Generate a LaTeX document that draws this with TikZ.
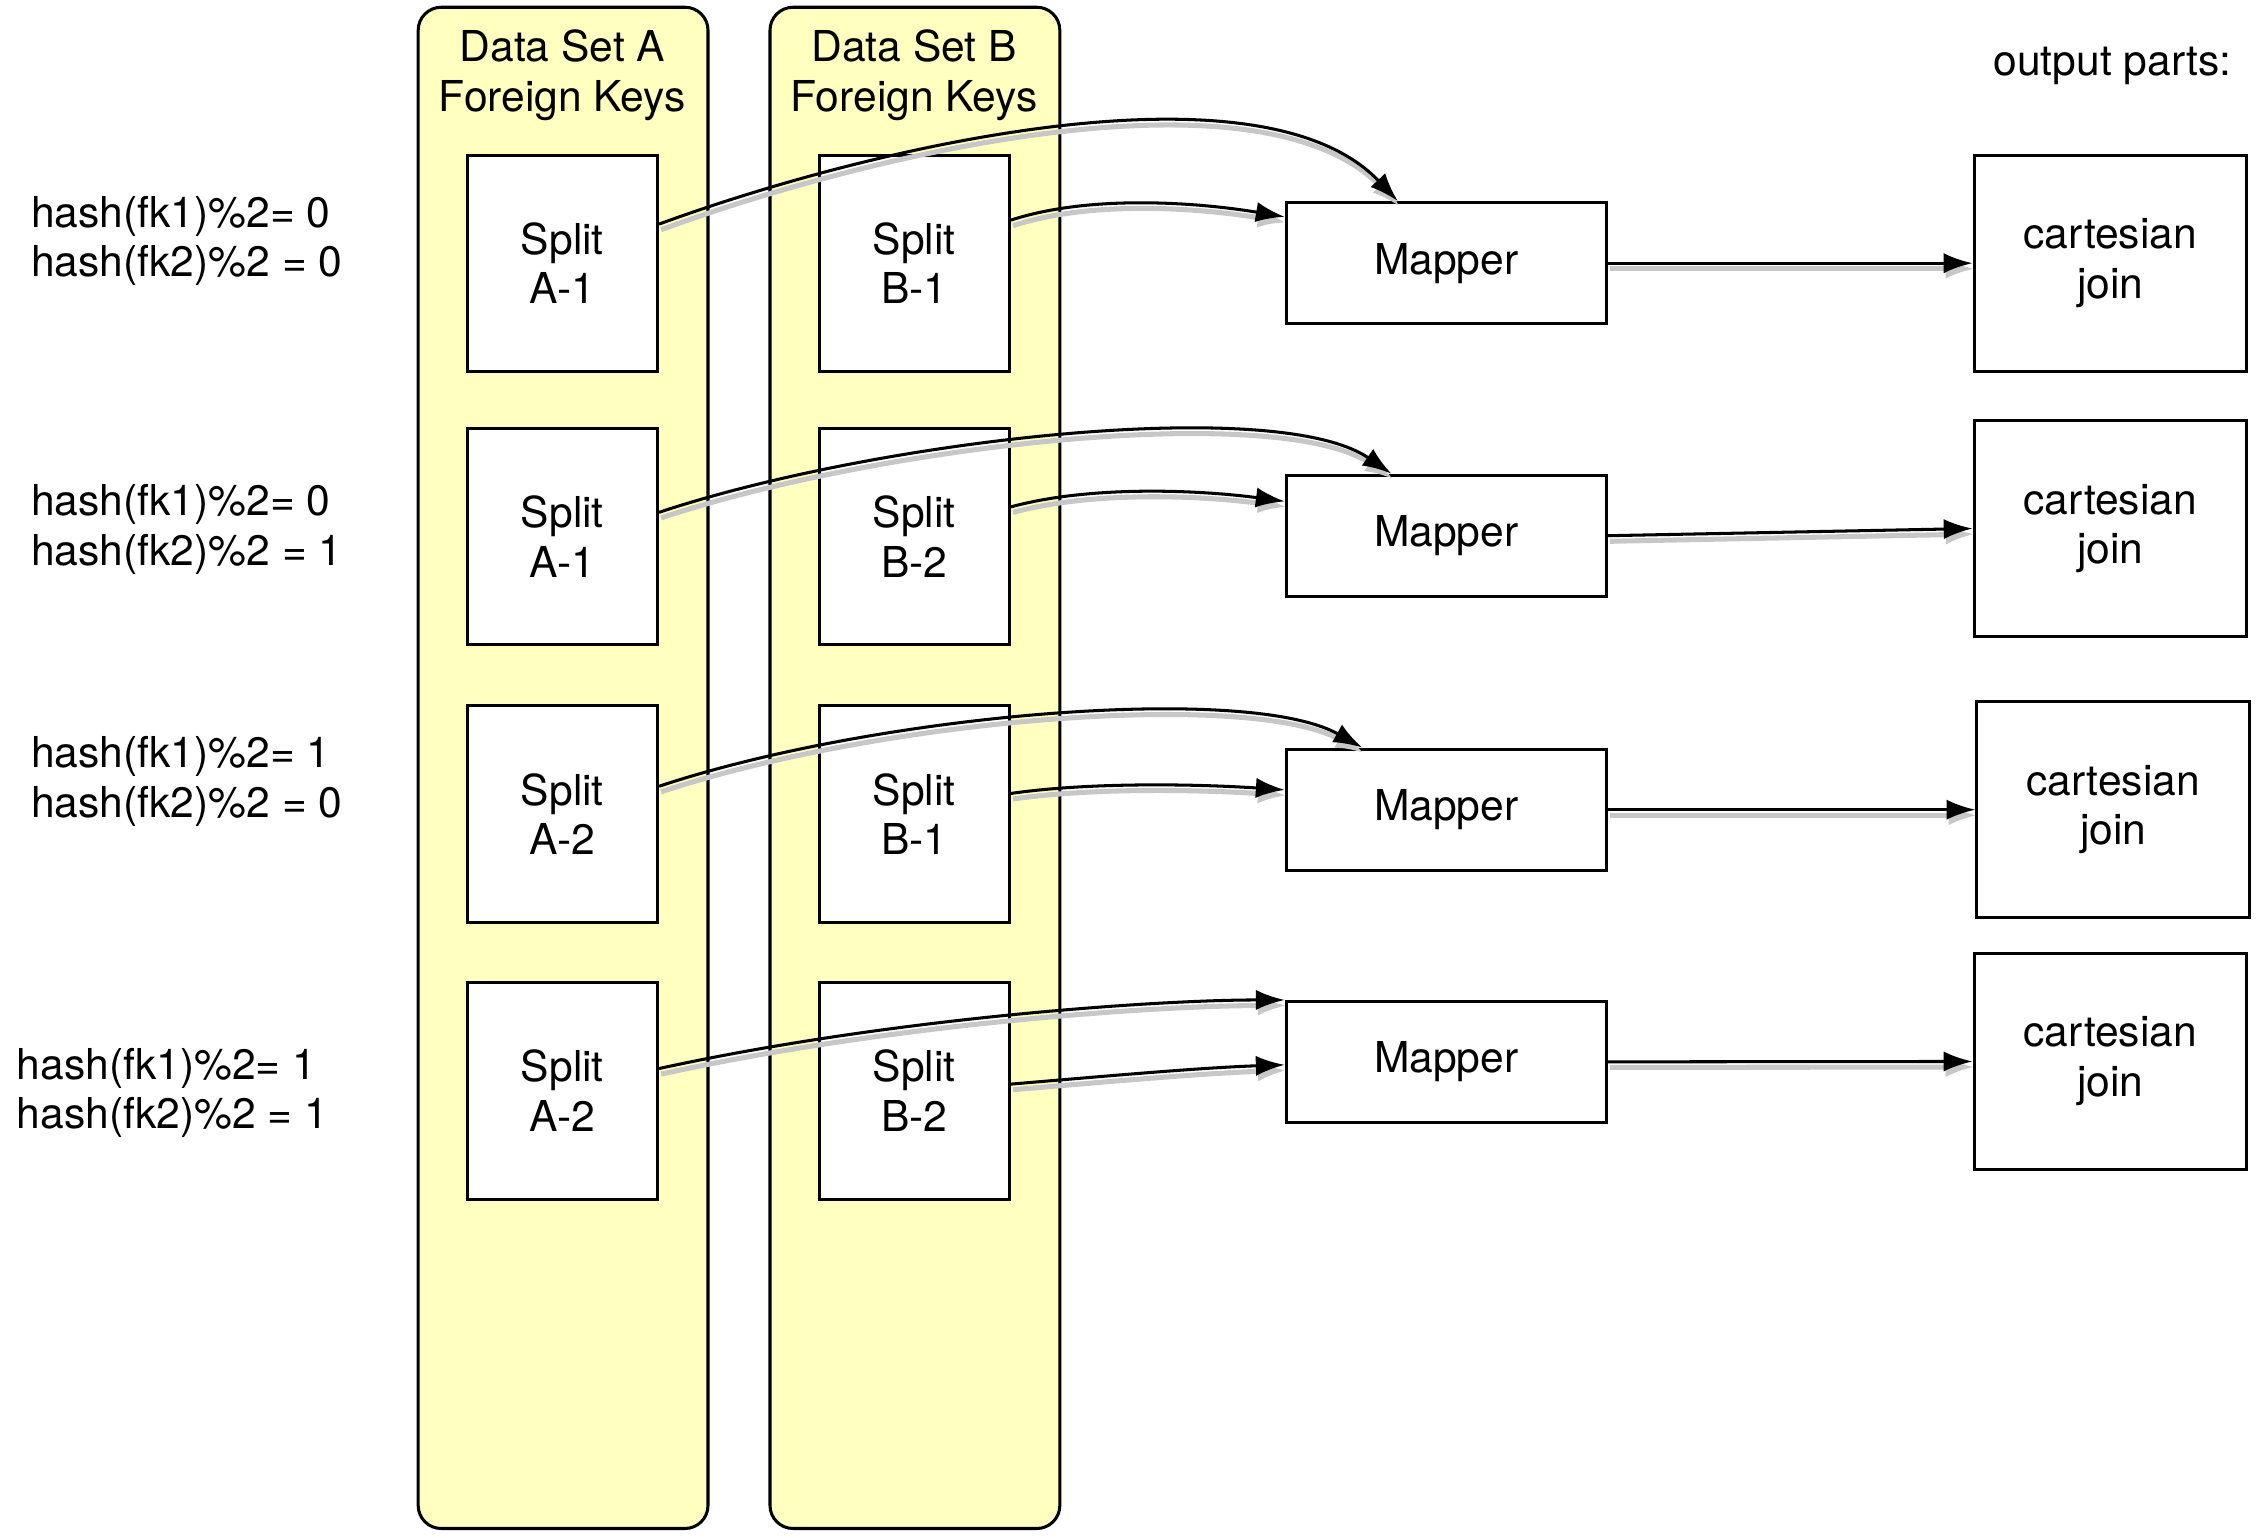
\documentclass[tikz,border=0pt]{standalone}
\usepackage{fontspec}
\setmainfont{TeX Gyre Heros}
\usetikzlibrary{arrows.meta,calc}
\definecolor{setyellow}{RGB}{255,255,192}

\begin{document}
\begin{tikzpicture}[x=0.1mm, y=-0.1mm,
		font=\fontsize{8.4}{9.8}\selectfont,
		column/.style={draw, rounded corners=1.6mm, fill=setyellow, line width=0.6pt, minimum width=20.1mm, minimum height=105.5mm},
		split/.style={draw, fill=white, line width=0.6pt, align=center, minimum width=13.2mm, minimum height=15mm},
		mapper/.style={draw, fill=white, line width=0.6pt, minimum width=22.2mm, minimum height=8.4mm},
		joinbox/.style={draw, fill=white, line width=0.6pt, align=center, minimum width=18.9mm, minimum height=15mm},
		hashlabel/.style={anchor=west, align=left, inner sep=0pt},
		flow/.style={-{Latex[length=2mm,width=1.4mm]}, line width=0.6pt,
			preaction={draw=black!22, line width=1pt, transform canvas={shift={(0.4pt,-1.1pt)}}}}]
		%%%%% START %%%%%
		\useasboundingbox (0, 0) rectangle (1568, 1066);
		
		\node[column] (colA) at (390.5, 532.5) {};
		\node[column] (colB) at (634.5, 532.5) {};
		\node[align=center] (titleA) at (390, 52) {Data Set A\\Foreign Keys};
		\node[align=center] (titleB) at (634, 52) {Data Set B\\Foreign Keys};
		
		\node[split] (sa1) at (390, 182.5) {Split\\A-1};
		\node[split] (sa2) at (390, 372) {Split\\A-1};
		\node[split] (sa3) at (390, 564.5) {Split\\A-2};
		\node[split] (sa4) at (390, 756.5) {Split\\A-2};
		
		\node[split] (sb1) at (634, 182.5) {Split\\B-1};
		\node[split] (sb2) at (634, 372) {Split\\B-2};
		\node[split] (sb3) at (634, 564.5) {Split\\B-1};
		\node[split] (sb4) at (634, 756.5) {Split\\B-2};
		
		\node[mapper] (m1) at (1003, 182.5) {Mapper};
		\node[mapper] (m2) at (1003, 371.5) {Mapper};
		\node[mapper] (m3) at (1003, 561.5) {Mapper};
		\node[mapper] (m4) at (1003, 736.5) {Mapper};
		
		\node (outlabel) at (1465, 46) {output parts:};
		\node[joinbox] (c1) at (1463.5, 182.5) {cartesian\\join};
		\node[joinbox] (c2) at (1463.5, 366.5) {cartesian\\join};
		\node[joinbox] (c3) at (1465.5, 561.5) {cartesian\\join};
		\node[joinbox] (c4) at (1463.5, 736) {cartesian\\join};
		
		\node[hashlabel] (h1) at (21, 167) {hash(fk1)\%2= 0\\hash(fk2)\%2 = 0};
		\node[hashlabel] (h2) at (21, 367) {hash(fk1)\%2= 0\\hash(fk2)\%2 = 1};
		\node[hashlabel] (h3) at (21, 542) {hash(fk1)\%2= 1\\hash(fk2)\%2 = 0};
		\node[hashlabel] (h4) at (11, 758) {hash(fk1)\%2= 1\\hash(fk2)\%2 = 1};
		
		% splits to mappers
		\draw[flow] (sa1.22) .. controls +(150,-55) and +(-95,-100) .. ($(m1.north west)!0.35!(m1.north east)$);
		\draw[flow] (sb1.24) .. controls +(55,-18) and +(-60,-10) .. (m1.164);
		
		\draw[flow] (sa2.14.4) .. controls +(150,-50) and +(-80,-55) .. ($(m2.north west)!0.33!(m2.north east)$);
		\draw[flow] (sb2.17) .. controls +(55,-15) and +(-60,-8) .. (m2.168.5);
		
		\draw[flow] (sa3.16.5) .. controls +(150,-50) and +(-80,-45) .. ($(m3.north west)!0.24!(m3.north east)$);
		\draw[flow] (sb3.12.4) .. controls +(55,-8) and +(-60,-4) .. (m3.173);
		
		\draw[flow] (sa4.13.2) .. controls +(160,-35) and +(-90,0) .. (m4.north west);
		\draw[flow] (sb4.4) .. controls +(60,-5) and +(-60,2) .. (m4.181);
		
		% mappers to outputs
		\draw[flow] (m1) -- (c1);
		\draw[flow] (m2.east) -- (c2.west);
		\draw[flow] (m3) -- (c3);
		\draw[flow] (m4) -- (c4);
		
		%%%%% END %%%%%
	\end{tikzpicture}
\end{document}
